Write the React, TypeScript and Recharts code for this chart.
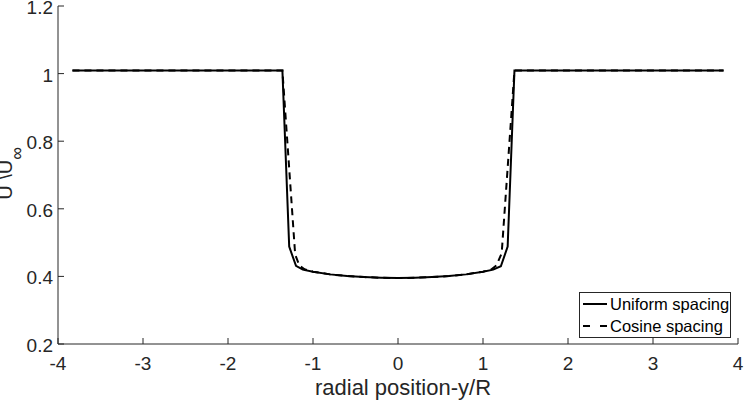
import React from "react";
import { LineChart, Line, XAxis, YAxis, Legend } from "recharts";

const xTicks = [-4, -3, -2, -1, 0, 1, 2, 3, 4];
const yTicks = [0.2, 0.4, 0.6, 0.8, 1, 1.2];

const uniformX = [-3.83, -1.36, -1.28, -1.2, -1.12, -1.0, -0.8, -0.6, -0.4, -0.2, 0, 0.2, 0.4, 0.6, 0.8, 1.0, 1.12, 1.21, 1.29, 1.37, 3.83];
const uniformY = [1.009, 1.009, 0.488, 0.431, 0.42, 0.414, 0.406, 0.401, 0.398, 0.396, 0.395, 0.396, 0.398, 0.401, 0.406, 0.414, 0.42, 0.43, 0.488, 1.009, 1.009];

const cosineX = [-3.83, -1.36, -1.21, -1.16, -1.1, -1.0, -0.8, -0.6, -0.4, -0.2, 0, 0.2, 0.4, 0.6, 0.8, 1.0, 1.1, 1.16, 1.22, 1.37, 3.83];
const cosineY = [1.009, 1.009, 0.465, 0.432, 0.421, 0.414, 0.406, 0.401, 0.398, 0.396, 0.395, 0.396, 0.398, 0.401, 0.406, 0.414, 0.421, 0.433, 0.469, 1.009, 1.009];

const seriesNames = ["Uniform spacing", "Cosine spacing"];

const uniformData = uniformX.map((x, i) => ({ x, y: uniformY[i] }));
const cosineData = cosineX.map((x, i) => ({ x, y: cosineY[i] }));

const AXIS = "#262626";
const FONT = "'Liberation Sans', Arial, Helvetica, sans-serif";

const BottomTick = (props: any) => {
  const { x, y, payload } = props;
  return (
    <g>
      <line x1={x} x2={x} y1={y} y2={y - 6} stroke={AXIS} strokeWidth={1} />
      <text x={x} y={y + 26} textAnchor="middle" fontSize={19} fill={AXIS} fontFamily={FONT}>
        {payload.value}
      </text>
    </g>
  );
};

const TopTick = (props: any) => {
  const { x, y } = props;
  return <line x1={x} x2={x} y1={y} y2={y + 6} stroke={AXIS} strokeWidth={1} />;
};

const LeftTick = (props: any) => {
  const { x, y, payload } = props;
  return (
    <g>
      <line x1={x} x2={x + 6} y1={y} y2={y} stroke={AXIS} strokeWidth={1} />
      <text x={x - 5} y={y + 8} textAnchor="end" fontSize={19} fill={AXIS} fontFamily={FONT}>
        {payload.value}
      </text>
    </g>
  );
};

const RightTick = (props: any) => {
  const { x, y } = props;
  return <line x1={x} x2={x - 6} y1={y} y2={y} stroke={AXIS} strokeWidth={1} />;
};

const XLabel = (props: any) => {
  const vb = props.viewBox || {};
  const cx = vb.x + vb.width / 2;
  return (
    <text x={cx + 5} y={395} textAnchor="middle" fontSize={22} fill={AXIS} fontFamily={FONT}>
      radial position-y/R
    </text>
  );
};

const YLabel = () => (
  <text transform="translate(12,147) rotate(-90)" textAnchor="end" fontSize={20} fill={AXIS} fontFamily={FONT}>
    U \U
    <tspan dy={11} fontSize={18}>∞</tspan>
  </text>
);

const LegendContent = () => (
  <div
    style={{
      border: `1px solid ${AXIS}`,
      background: "#fff",
      width: 150,
      padding: "0px 0px",
      fontFamily: FONT,
      fontSize: 16.5,
      color: "#000",
      lineHeight: "22px",
    }}
  >
    <div style={{ display: "flex", alignItems: "center", height: 22 }}>
      <svg width={30} height={22} style={{ display: "block" }}>
        <line x1={3} x2={27} y1={11} y2={11} stroke="#000" strokeWidth={2} />
      </svg>
      <span>{seriesNames[0]}</span>
    </div>
    <div style={{ display: "flex", alignItems: "center", height: 22 }}>
      <svg width={30} height={22} style={{ display: "block" }}>
        <line x1={3} x2={27} y1={11} y2={11} stroke="#000" strokeWidth={2} strokeDasharray="7 10" />
      </svg>
      <span>{seriesNames[1]}</span>
    </div>
  </div>
);

export default function App() {
  return (
    <div style={{ position: "absolute", left: 0, top: 0, width: 745, height: 402, background: "#fff" }}>
      <LineChart width={745} height={402} margin={{ top: 6, right: 7, bottom: 0, left: 0 }}>
        <XAxis
          xAxisId="b"
          type="number"
          dataKey="x"
          domain={[-4, 4]}
          ticks={xTicks}
          interval={0}
          height={58}
          tickSize={0}
          tickMargin={0}
          tickLine={false}
          axisLine={{ stroke: AXIS }}
          tick={<BottomTick />}
          allowDataOverflow
          label={{ content: <XLabel /> }}
        />
        <XAxis
          xAxisId="t"
          orientation="top"
          type="number"
          dataKey="x"
          domain={[-4, 4]}
          ticks={xTicks}
          interval={0}
          height={0}
          tickSize={0}
          tickMargin={0}
          tickLine={false}
          axisLine={{ stroke: AXIS }}
          tick={<TopTick />}
          allowDataOverflow
        />
        <YAxis
          yAxisId="l"
          type="number"
          domain={[0.2, 1.2]}
          ticks={yTicks}
          interval={0}
          width={58}
          tickSize={0}
          tickMargin={0}
          tickLine={false}
          axisLine={{ stroke: AXIS }}
          tick={<LeftTick />}
          allowDataOverflow
          label={{ content: <YLabel /> }}
        />
        <YAxis
          yAxisId="r"
          orientation="right"
          type="number"
          domain={[0.2, 1.2]}
          ticks={yTicks}
          interval={0}
          width={0}
          tickSize={0}
          tickMargin={0}
          tickLine={false}
          axisLine={{ stroke: AXIS }}
          tick={<RightTick />}
          allowDataOverflow
        />
        <Line
          xAxisId="b"
          yAxisId="l"
          data={uniformData}
          dataKey="y"
          name={seriesNames[0]}
          type="linear"
          stroke="#000"
          strokeWidth={2}
          dot={false}
          isAnimationActive={false}
        />
        <Line
          xAxisId="b"
          yAxisId="l"
          data={cosineData}
          dataKey="y"
          name={seriesNames[1]}
          type="linear"
          stroke="#000"
          strokeWidth={2}
          strokeDasharray="7 5"
          dot={false}
          isAnimationActive={false}
        />
        <Legend
          layout="horizontal"
          verticalAlign="middle"
          align="center"
          content={<LegendContent />}
          wrapperStyle={{ left: 579, top: 292, width: "auto", height: "auto" }}
        />
      </LineChart>
    </div>
  );
}
